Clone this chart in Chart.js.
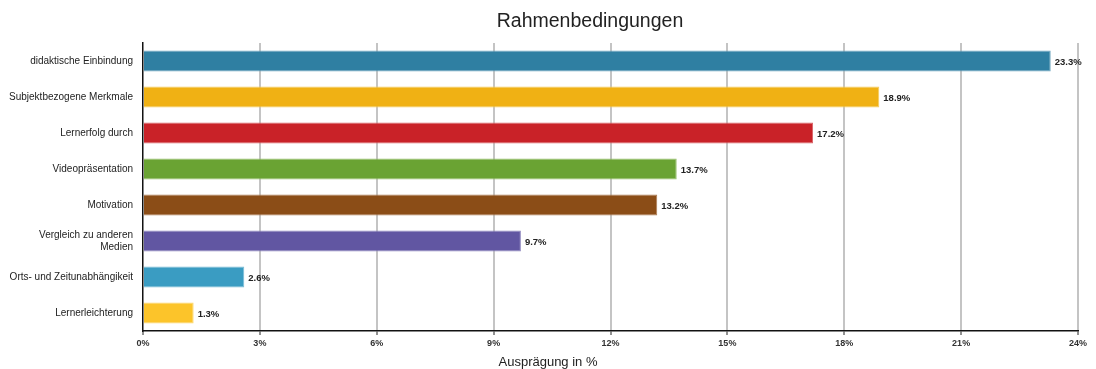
<!DOCTYPE html>
<html>
<head>
<meta charset="utf-8">
<script src="https://cdn.jsdelivr.net/npm/chart.js@4"></script>
<style>
  html, body { margin: 0; padding: 0; background: #fff; }
  #wrap { width: 1096px; height: 369px; }
</style>
</head>
<body>
<div id="wrap"><canvas id="mainChart" width="1096" height="369"></canvas></div>
<script>
const chartTitle = 'Rahmenbedingungen';
const axisTitle = 'Ausprägung in %';
const categories = [
    'didaktische Einbindung',
    'Subjektbezogene Merkmale',
    'Lernerfolg durch',
    'Videopräsentation',
    'Motivation',
    ['Vergleich zu anderen', 'Medien'],
    'Orts- und Zeitunabhängikeit',
    'Lernerleichterung'
];
const values = [23.3, 18.9, 17.2, 13.7, 13.2, 9.7, 2.6, 1.3];
const barColors = ['#2f7fa2', '#f0b114', '#c92228', '#6aa333', '#8b4d17', '#6156a2', '#3a9cc2', '#fcc42a'];
const borderColors = ['#6fa6bf', '#f5cb5c', '#d96468', '#97c06c', '#ab7d54', '#8f87bf', '#78bcd6', '#fdd668'];
const xTicks = [0, 3, 6, 9, 12, 15, 18, 21, 24];

const FONT = '"Liberation Sans", Arial, Helvetica, sans-serif';

// value labels next to the bars + the two titles (placed like in the original)
const extraText = {
    id: 'extraText',
    afterDraw(chart) {
        const ctx = chart.ctx;
        const meta = chart.getDatasetMeta(0);
        ctx.save();
        ctx.font = 'bold 9.5px ' + FONT;
        ctx.fillStyle = '#222';
        ctx.textAlign = 'left';
        ctx.textBaseline = 'middle';
        meta.data.forEach((bar, i) => {
            ctx.fillText(values[i].toFixed(1) + '%', bar.x + 4, bar.y + 1);
        });

        ctx.textAlign = 'center';
        ctx.font = '19.5px ' + FONT;
        ctx.fillText(chartTitle, 590, 22);
        ctx.font = '13px ' + FONT;
        ctx.fillText(axisTitle, 548, 362);
        ctx.restore();
    }
};

new Chart(document.getElementById('mainChart').getContext('2d'), {
    type: 'bar',
    data: {
        labels: categories,
        datasets: [{
            data: values,
            backgroundColor: barColors,
            borderColor: borderColors,
            borderWidth: 1,
            borderSkipped: 'left',
            barPercentage: 0.76,
            categoryPercentage: 0.77
        }]
    },
    options: {
        indexAxis: 'y',
        responsive: false,
        animation: false,
        devicePixelRatio: 1,
        layout: { padding: { left: 0, right: 18, top: 43, bottom: 0 } },
        plugins: {
            legend: { display: false },
            tooltip: { enabled: false },
            title: { display: false }
        },
        scales: {
            x: {
                min: 0,
                max: 24,
                afterBuildTicks: s => { s.ticks = xTicks.map(v => ({ value: v })); },
                afterFit: s => { s.height = 38; },
                grid: {
                    color: c => c.tick && c.tick.value === 0 ? 'rgba(0,0,0,0)' : '#c4c4c4',
                    lineWidth: 2,
                    tickColor: '#222',
                    tickLength: 4,
                    tickWidth: 1
                },
                border: { display: true, color: '#111', width: 1.5 },
                ticks: {
                    color: '#333',
                    font: { family: FONT, size: 9, weight: 'bold' },
                    padding: 3,
                    callback: v => v + '%'
                }
            },
            y: {
                afterFit: s => { s.width = 143; },
                grid: { display: false },
                border: { display: true, color: '#111', width: 1.5 },
                ticks: {
                    color: '#222',
                    font: { family: FONT, size: 10 },
                    padding: 2
                }
            }
        }
    },
    plugins: [extraText]
});
</script>
</body>
</html>
